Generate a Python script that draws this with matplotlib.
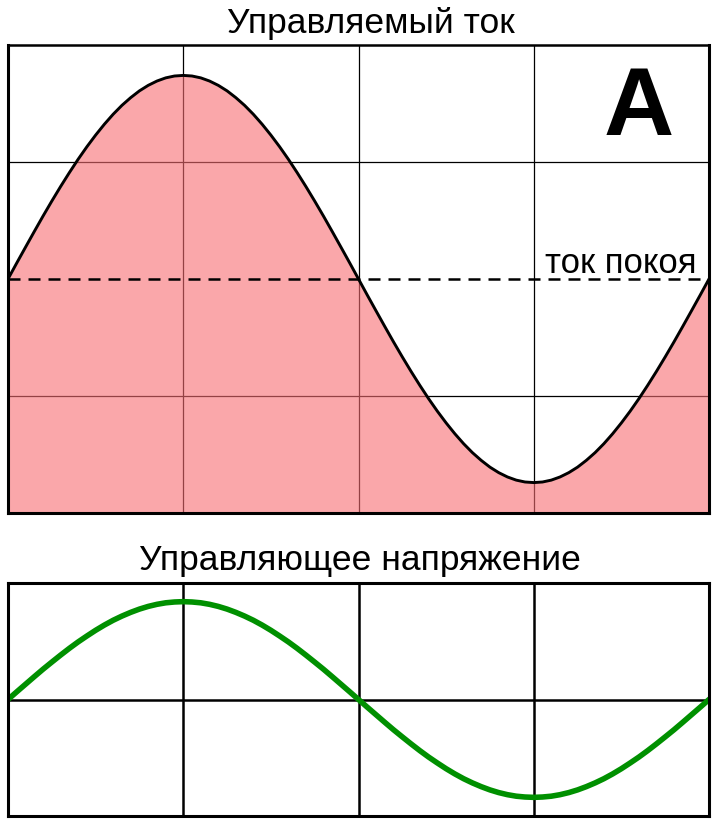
import matplotlib
matplotlib.use('Agg')
import matplotlib.pyplot as plt

plt.rcParams['font.family'] = ['Liberation Sans', 'DejaVu Sans']

# time positions (grid divisions) and values
t = [0.00, 0.05, 0.10, 0.15, 0.20, 0.25, 0.30, 0.35, 0.40, 0.45,
     0.50, 0.55, 0.60, 0.65, 0.70, 0.75, 0.80, 0.85, 0.90, 0.95,
     1.00, 1.05, 1.10, 1.15, 1.20, 1.25, 1.30, 1.35, 1.40, 1.45,
     1.50, 1.55, 1.60, 1.65, 1.70, 1.75, 1.80, 1.85, 1.90, 1.95,
     2.00, 2.05, 2.10, 2.15, 2.20, 2.25, 2.30, 2.35, 2.40, 2.45,
     2.50, 2.55, 2.60, 2.65, 2.70, 2.75, 2.80, 2.85, 2.90, 2.95,
     3.00, 3.05, 3.10, 3.15, 3.20, 3.25, 3.30, 3.35, 3.40, 3.45,
     3.50, 3.55, 3.60, 3.65, 3.70, 3.75, 3.80, 3.85, 3.90, 3.95,
     4.00]

current = [0.000, 0.137, 0.272, 0.406, 0.538, 0.666, 0.790, 0.909, 1.023, 1.130,
           1.230, 1.323, 1.408, 1.484, 1.550, 1.608, 1.655, 1.692, 1.719, 1.735,
           1.740, 1.735, 1.719, 1.692, 1.655, 1.608, 1.550, 1.484, 1.408, 1.323,
           1.230, 1.130, 1.023, 0.909, 0.790, 0.666, 0.538, 0.406, 0.272, 0.137,
           0.000, -0.137, -0.272, -0.406, -0.538, -0.666, -0.790, -0.909, -1.023, -1.130,
           -1.230, -1.323, -1.408, -1.484, -1.550, -1.608, -1.655, -1.692, -1.719, -1.735,
           -1.740, -1.735, -1.719, -1.692, -1.655, -1.608, -1.550, -1.484, -1.408, -1.323,
           -1.230, -1.130, -1.023, -0.909, -0.790, -0.666, -0.538, -0.406, -0.272, -0.137,
           0.000]

voltage = [0.000, 0.066, 0.131, 0.196, 0.260, 0.321, 0.381, 0.439, 0.494, 0.545,
           0.594, 0.639, 0.680, 0.716, 0.748, 0.776, 0.799, 0.817, 0.830, 0.837,
           0.840, 0.837, 0.830, 0.817, 0.799, 0.776, 0.748, 0.716, 0.680, 0.639,
           0.594, 0.545, 0.494, 0.439, 0.381, 0.321, 0.260, 0.196, 0.131, 0.066,
           0.000, -0.066, -0.131, -0.196, -0.260, -0.321, -0.381, -0.439, -0.494, -0.545,
           -0.594, -0.639, -0.680, -0.716, -0.748, -0.776, -0.799, -0.817, -0.830, -0.837,
           -0.840, -0.837, -0.830, -0.817, -0.799, -0.776, -0.748, -0.716, -0.680, -0.639,
           -0.594, -0.545, -0.494, -0.439, -0.381, -0.321, -0.260, -0.196, -0.131, -0.066,
           0.000]

quiescent = 0.0

title_top = 'Управляемый ток'
title_bottom = 'Управляющее напряжение'
label_q = 'ток покоя'
label_letter = 'A'

fig = plt.figure(figsize=(7.2, 8.24), dpi=100)
ax1 = fig.add_axes([8 / 720, 1 - 513 / 824, 701 / 720, 468 / 824])
ax2 = fig.add_axes([8 / 720, 1 - 816 / 824, 701 / 720, 233 / 824])

# top panel
ax1.set_xlim(0, 4)
ax1.set_ylim(-2, 2)
ax1.set_axisbelow(True)
ax1.set_xticks([1, 2, 3])
ax1.set_yticks([-1, 1])
ax1.grid(True, color='black', linewidth=0.9)
ax1.fill_between(t, current, -2, color='#f76d72', alpha=0.6, linewidth=0, zorder=1)
ax1.plot(t, current, color='black', linewidth=2.1, solid_joinstyle='round', zorder=3)
ax1.axhline(quiescent, color='black', linewidth=1.8, dashes=(4.8, 3.2), zorder=4)
ax1.text(3.93, 0.05, label_q, ha='right', va='baseline', fontsize=25)
ax1.text(3.598, 1.231, label_letter, ha='center', va='baseline',
         fontsize=70, fontweight='bold')

# bottom panel
ax2.set_xlim(0, 4)
ax2.set_ylim(-1, 1)
ax2.set_axisbelow(True)
ax2.set_xticks([1, 2, 3])
ax2.set_yticks([0])
ax2.grid(True, color='black', linewidth=1.8)
ax2.plot(t, voltage, color='#009000', linewidth=4.0, solid_joinstyle='round', zorder=3)

for ax in (ax1, ax2):
    ax.tick_params(length=0, labelbottom=False, labelleft=False)
    for s in ax.spines.values():
        s.set_linewidth(2.2)
        s.set_zorder(5)
ax1.spines['top'].set_linewidth(1.8)

fig.text(371 / 720, 1 - 33 / 824, title_top, ha='center', va='baseline', fontsize=25.5)
fig.text(360 / 720, 1 - 570 / 824, title_bottom, ha='center', va='baseline', fontsize=25.5)

fig.savefig('out.png', dpi=100)
